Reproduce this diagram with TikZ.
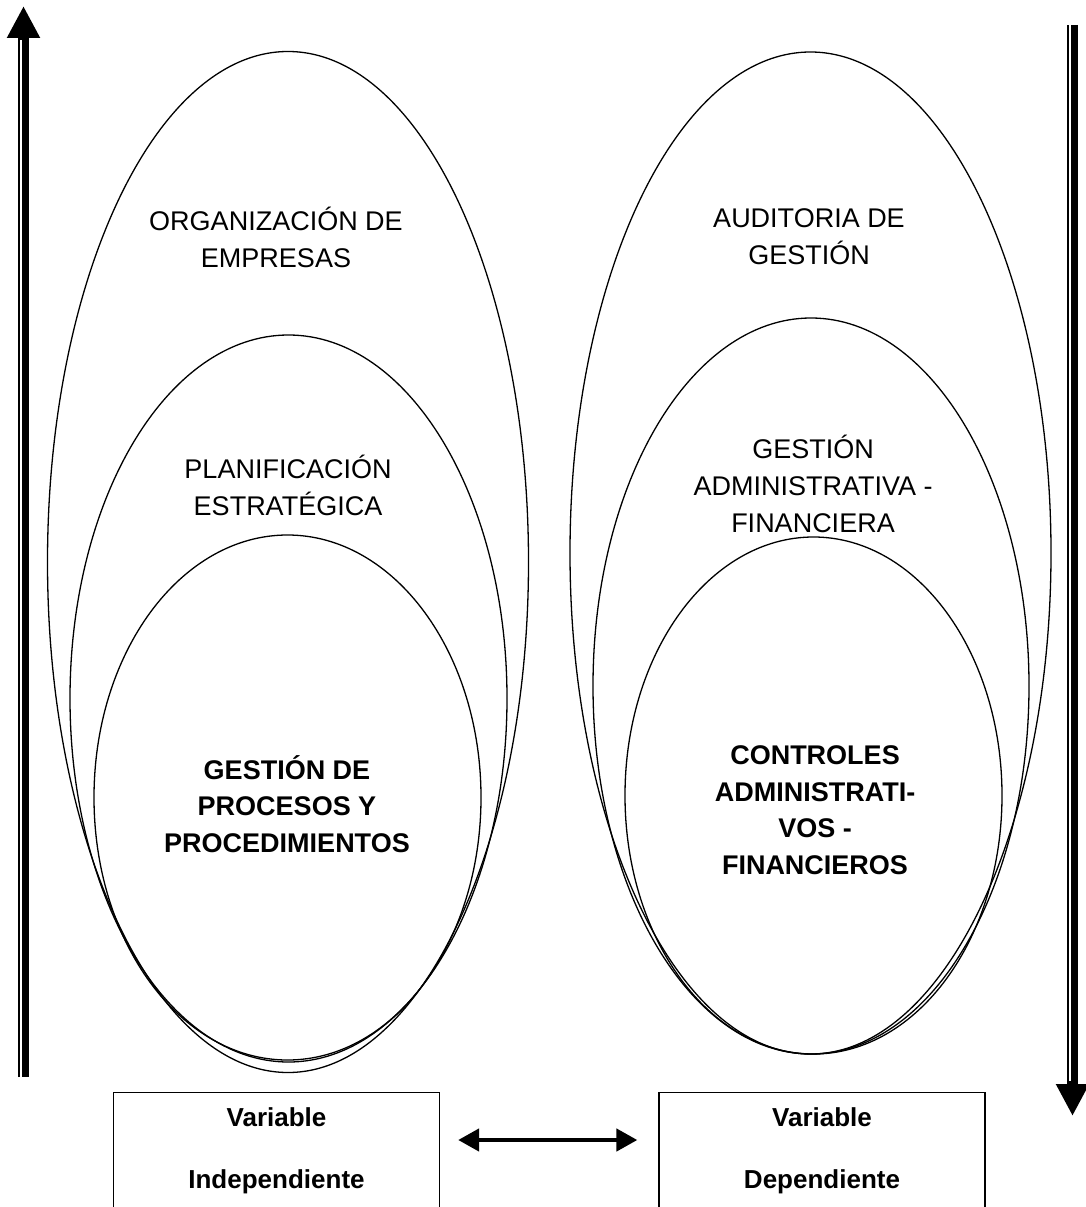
\documentclass[tikz,border=0pt]{standalone}
\usepackage{fontspec}
\setmainfont{Liberation Sans}
\usetikzlibrary{shapes.geometric,arrows.meta,positioning}

\begin{document}
\begin{tikzpicture}[
  x=1pt, y=-1pt,
  ring/.style = {shape=ellipse, draw, line width=1.3pt, inner sep=0pt},
  caption/.style = {align=center, font=\fontsize{27}{37}\selectfont},
  core/.style = {align=center, font=\fontsize{27}{36.5}\selectfont\bfseries},
  varbox/.style = {shape=rectangle, draw, line width=1.3pt, anchor=north,
    minimum width=326pt, minimum height=200pt},
  vartext/.style = {align=center, font=\fontsize{26}{62}\selectfont\bfseries},
  bigarrow/.style = {line width=11pt, -{Triangle[width=31pt,length=32pt]}},
  gap/.style = {white, line width=2pt},
  pairarrow/.style = {line width=4.5pt,
    {Triangle[width=22pt,length=21pt]}-{Triangle[width=22pt,length=21pt]}}
  ]
  \useasboundingbox (0,0) rectangle (1086,1207);
  \clip (0,0) rectangle (1086,1207);

  % left group
  \node[ring, minimum width=481pt, minimum height=1021pt] (org)  at (288,562) {};
  \node[ring, minimum width=437pt, minimum height=727pt]  (plan) at (288.5,698.5) {};
  \node[ring, minimum width=387pt, minimum height=525pt]  (proc) at (287.5,797.5) {};
  \node[caption] (orgtxt)  at (276,237) {ORGANIZACIÓN DE\\EMPRESAS};
  \node[caption] (plantxt) at (288,485) {PLANIFICACIÓN\\ESTRATÉGICA};
  \node[core]    (proctxt) at (287,804) {GESTIÓN DE\\PROCESOS Y\\PROCEDIMIENTOS};

  % right group
  \node[ring, minimum width=481pt, minimum height=1002pt] (aud)  at (810.5,553) {};
  \node[ring, minimum width=436pt, minimum height=736pt]  (gaf)  at (811,686) {};
  \node[ring, minimum width=377pt, minimum height=517pt]  (ctrl) at (813.5,795.5) {};
  \node[caption] (audtxt)  at (809,237) {AUDITORIA DE\\GESTIÓN};
  \node[caption] (gaftxt)  at (813,484) {GESTIÓN\\ADMINISTRATIVA -\\FINANCIERA};
  \node[core]    (ctrltxt) at (815,810) {CONTROLES\\ADMINISTRATI-\\VOS -\\FINANCIEROS};

  % side arrows
  \coordinate (upTop) at (23.5,6);
  \coordinate (upEnd) at (23.5,1077);
  \draw[bigarrow] (upEnd) -- (upTop);
  \draw[gap] ([xshift=-2.5pt]upEnd) -- ([xshift=-2.5pt,yshift=-34pt]upTop);
  \coordinate (downTop) at (1072.5,25);
  \coordinate (downEnd) at (1072.5,1116);
  \draw[bigarrow] (downTop) -- (downEnd);
  \draw[gap] ([xshift=-2.5pt]downTop) -- ([xshift=-2.5pt,yshift=35pt]downEnd);

  % variables
  \node[varbox] (vi) at (276.5,1092) {};
  \node[varbox] (vd) at (822,1092) {};
  \node[vartext] (vitxt) at (vi.north |- 0,1151) {Variable\\Independiente};
  \node[vartext] (vdtxt) at (vd.north |- 0,1151) {Variable\\Dependiente};
  \coordinate (link) at (548,1140);
  \draw[pairarrow, shorten <=18pt, shorten >=21pt] (vi.east |- link) -- (vd.west |- link);
\end{tikzpicture}
\end{document}
